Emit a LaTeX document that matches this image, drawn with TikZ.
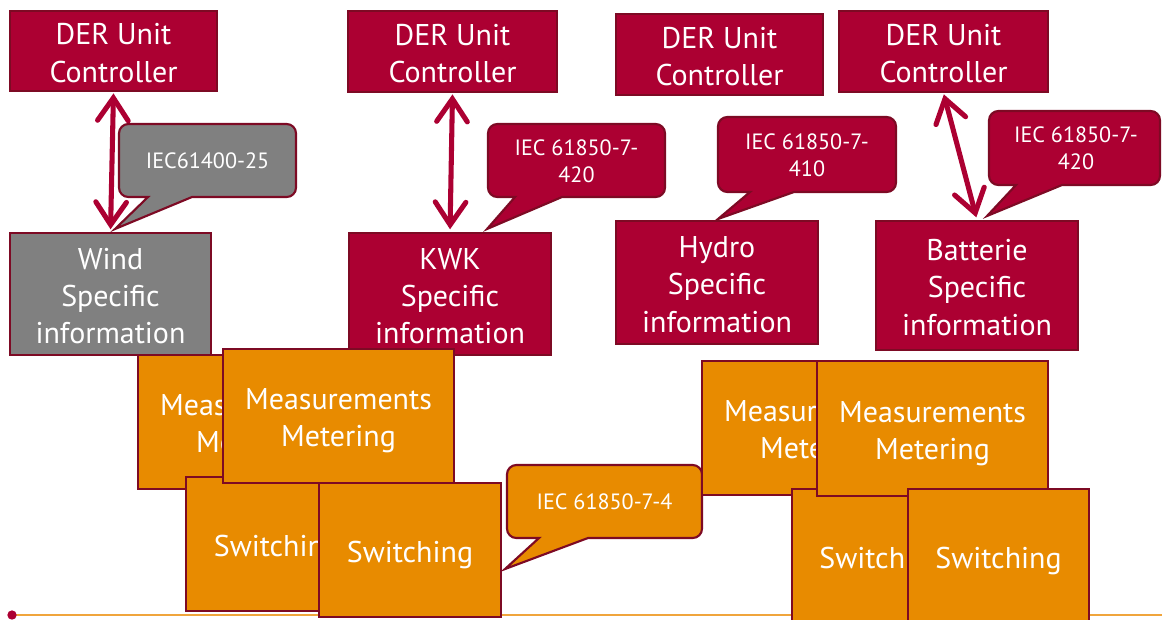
\documentclass[tikz,border=0pt]{standalone}
\usepackage{fontspec}
\setmainfont{PT Sans}
\usetikzlibrary{arrows.meta}
\definecolor{boxred}{HTML}{AC0032}
\definecolor{edgered}{HTML}{7D0A24}
\definecolor{boxorange}{HTML}{E88B00}
\definecolor{boxgrey}{HTML}{808080}
\definecolor{lineorange}{HTML}{F0A53C}
\newcommand{\calloutpath}[8]{%
  \draw[cshape, fill=#1] (#6,#5) -- #8 -- (#7,#5) [rounded corners=7pt] -- (#4,#5) -- (#4,#3) -- (#2,#3) -- (#2,#5) [sharp corners] -- cycle;}
\newcommand{\bx}[7]{%
  \pgfmathsetmacro\bxw{(#5-#3)*0.75}%
  \pgfmathsetmacro\bxh{(#6-#4)*0.75}%
  \node[#2, minimum width=\bxw pt, minimum height=\bxh pt] (#1) at ({(#3+#5)/2},{(#4+#6)/2}) {#7};}
\newcommand{\upr}{\rule{0pt}{19pt}}
\newcommand{\upo}{\rule{0pt}{23.3pt}}
\begin{document}
\begin{tikzpicture}[x=0.75pt,y=-0.75pt,
  box/.style={draw=edgered, line width=1.6pt, text=white, align=center, inner sep=0pt,
    font=\fontsize{22.5}{27.8}\selectfont},
  redbox/.style={box, fill=boxred},
  greybox/.style={box, fill=boxgrey},
  orangebox/.style={box, fill=boxorange},
  cshape/.style={draw=edgered, line width=1.6pt},
  ctext/.style={text=white, align=center, inner sep=0pt, font=\fontsize{16.6}{20.3}\selectfont},
  link/.style={draw=boxred, line width=3.8pt, line cap=round,
    {Straight Barb[length=17pt,width=23pt,line cap=round]}-{Straight Barb[length=17pt,width=23pt,line cap=round]},
    shorten <=1pt, shorten >=2pt}
]
\useasboundingbox (0,0) rectangle (1162,619);

% bottom line
\draw[lineorange, line width=1.5pt] (12,615) coordinate (lstart) -- (1162,615) coordinate (lend);
\fill[boxred] (lstart) circle[radius=3.5pt];

% controllers
\bx{der1}{redbox}{10}{11}{217}{91}{\upr DER Unit\\Controller}
\bx{der2}{redbox}{348}{11}{557}{92}{\upr DER Unit\\Controller}
\bx{der3}{redbox}{616}{14}{823}{95}{\upr DER Unit\\Controller}
\bx{der4}{redbox}{839}{11}{1048}{92}{\upr DER Unit\\Controller}

% specific information
\bx{wind}{greybox}{10}{233}{211}{355}{\upr Wind\\Specific\\information}
\bx{kwk}{redbox}{349}{233}{551}{355}{\upr KWK\\Specific\\information}
\bx{hydro}{redbox}{616}{221}{818}{344}{\upr Hydro\\Specific\\information}
\bx{batt}{redbox}{876}{221}{1078}{350}{\upr Batterie\\Specific\\information}

% links
\draw[link] (der1.south) -- (wind.north);
\draw[link] (der2.south) -- (kwk.north);
\draw[link] (der4.south) -- (batt.north);

% callouts
\calloutpath{boxgrey}{119}{124}{296}{197}{148}{192}{(115,229)}
\node[ctext] (c1) at (207.5,160.5) {IEC61400-25};
\calloutpath{boxred}{488}{124}{665}{197}{515}{562}{(487,229)}
\node[ctext] (c2) at (576.5,161.5) {IEC 61850-7-\\420};
\calloutpath{boxred}{718}{117}{896}{192}{750}{794}{(718,219)}
\node[ctext] (c3) at (807,155) {IEC 61850-7-\\410};
\calloutpath{boxred}{989}{111}{1160}{185}{1016}{1062}{(987,216)}
\node[ctext] (c4) at (1076,148.5) {IEC 61850-7-\\420};

% left group
\bx{mb1}{orangebox}{138}{355}{369}{489}{\upo Measurements\\Metering}
\bx{sb1}{orangebox}{186}{477}{368}{611}{\upo Switching}
\bx{mf1}{orangebox}{223}{349}{454}{483}{\upo Measurements\\Metering}
\bx{sf1}{orangebox}{319}{483}{501}{617}{\upo Switching}

\calloutpath{boxorange}{507}{465}{702}{538}{539}{588}{(505,569)}
\node[ctext] (c5) at (604.5,502) {IEC 61850-7-4};

% right group
\bx{mb2}{orangebox}{702}{361}{933}{495}{\upo Measurements\\Metering}
\bx{sb2}{orangebox}{792}{489}{973}{623}{\upo Switching}
\bx{mf2}{orangebox}{817}{361}{1048}{496}{\upo Measurements\\Metering}
\bx{sf2}{orangebox}{908}{489}{1089}{623}{\upo Switching}
\end{tikzpicture}
\end{document}
